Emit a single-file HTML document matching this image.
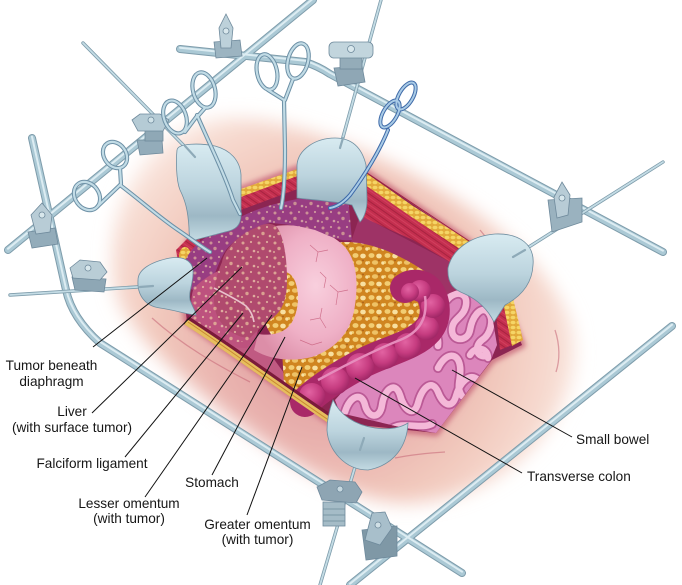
<!DOCTYPE html>
<html><head><meta charset="utf-8"><style>
html,body{margin:0;padding:0;background:#fff;}
svg{display:block}
text{font-family:"Liberation Sans",Arial,sans-serif;font-size:13.6px;fill:#161616;}
</style></head><body>
<svg width="682" height="585" viewBox="0 0 682 585" xmlns="http://www.w3.org/2000/svg">
<defs>
 <filter id="b8" x="-20%" y="-20%" width="140%" height="140%"><feGaussianBlur stdDeviation="9"/></filter>
 <filter id="b3" x="-20%" y="-20%" width="140%" height="140%"><feGaussianBlur stdDeviation="3"/></filter>
 <radialGradient id="skin" cx="330" cy="335" r="260" gradientUnits="userSpaceOnUse">
   <stop offset="0" stop-color="#dc9098"/>
   <stop offset="0.4" stop-color="#e8b0ad"/>
   <stop offset="0.65" stop-color="#f1c7bb"/>
   <stop offset="0.88" stop-color="#f7dcd2"/>
   <stop offset="1" stop-color="#fcf0eb"/>
 </radialGradient>
 <linearGradient id="ret" x1="0" y1="0" x2="0" y2="1">
   <stop offset="0" stop-color="#d8ebf1"/>
   <stop offset="0.45" stop-color="#bcd4de"/>
   <stop offset="0.75" stop-color="#9db8c5"/>
   <stop offset="1" stop-color="#c4dbe3"/>
 </linearGradient>
 <radialGradient id="stom" cx="0.6" cy="0.45" r="0.65">
   <stop offset="0" stop-color="#f8cfdd"/>
   <stop offset="0.6" stop-color="#efb0c6"/>
   <stop offset="1" stop-color="#dc8ea8"/>
 </radialGradient>
 <radialGradient id="hau" cx="0.4" cy="0.35" r="0.7">
   <stop offset="0" stop-color="#e263a2"/>
   <stop offset="0.6" stop-color="#c63c80"/>
   <stop offset="1" stop-color="#9a2462"/>
 </radialGradient>
 <pattern id="speck" width="16" height="15" patternUnits="userSpaceOnUse">
   <circle cx="3" cy="3" r="1.5" fill="#eec9a4"/>
   <circle cx="11" cy="2" r="1.1" fill="#f0d2ae"/>
   <circle cx="7" cy="8.5" r="1.7" fill="#ebc59e"/>
   <circle cx="14" cy="11" r="1.3" fill="#f1d6b4"/>
   <circle cx="2" cy="12" r="1" fill="#efcfa8"/>
 </pattern>
 <pattern id="fat" width="16" height="14" patternUnits="userSpaceOnUse">
   <rect width="16" height="14" fill="#d08520"/>
   <ellipse cx="3.5" cy="3.5" rx="3" ry="2.4" fill="#f2cd72"/>
   <ellipse cx="11" cy="4" rx="2.8" ry="2.4" fill="#f8e0a0"/>
   <ellipse cx="7" cy="10.5" rx="3.1" ry="2.3" fill="#eec266"/>
   <ellipse cx="15" cy="11" rx="1.8" ry="1.7" fill="#f8e0a0"/>
   <ellipse cx="0.5" cy="10.5" rx="1.6" ry="1.5" fill="#f2cd72"/>
   <circle cx="11" cy="8.5" r="0.9" fill="#a8601a"/>
 </pattern>
 <pattern id="fat2" width="6" height="5" patternUnits="userSpaceOnUse">
   <rect width="6" height="5" fill="#e2a93a"/>
   <ellipse cx="3" cy="2.5" rx="2.5" ry="1.8" fill="#f5d565"/>
 </pattern>
 <pattern id="muscle" width="6" height="6" patternUnits="userSpaceOnUse" patternTransform="rotate(35)">
   <rect width="6" height="6" fill="#c42f4f"/>
   <line x1="0" y1="1" x2="6" y2="1" stroke="#a0203c" stroke-width="0.8"/>
   <line x1="0" y1="4" x2="6" y2="4" stroke="#d84a66" stroke-width="0.6"/>
 </pattern>
 <clipPath id="bowelclip"><path d="M335,400 L360,372 L410,348 L430,312 L445,295 L465,287 L490,303 L497,345 L490,362 L436,433 L400,427 L340,413 Z"/></clipPath>
</defs>

<!-- skin -->
<path d="M112,262 C110,215 130,170 165,140 C195,118 235,113 280,124 C330,136 385,158 440,190 C495,222 545,265 568,315 C585,355 572,405 535,445 C500,482 450,505 400,503 C355,500 300,470 250,432 C195,392 140,345 120,305 C114,292 112,278 112,262 Z" fill="url(#skin)" filter="url(#b8)"/>
<g fill="none" stroke="#c46474" stroke-width="1.3" opacity="0.55">
 <path d="M152,318 C182,345 215,364 250,382"/>
 <path d="M395,458 C410,455 428,453 445,452"/>
 <path d="M335,438 C345,445 350,450 352,456"/>
 <path d="M480,230 C485,236 490,242 493,250"/>
 <path d="M555,330 C560,345 560,360 556,372"/>
</g>
<path d="M187,322 L180,262 L190,240 L240,190 L300,168 L355,165 L470,243 L500,292 L522,345 L492,360 L436,433 L330,422 Z" fill="none" stroke="#c8687a" stroke-width="6" filter="url(#b3)"/>
<!-- cavity -->
<path d="M187,322 L180,262 L190,240 L240,190 L300,168 L355,165 L470,243 L500,292 L522,345 L492,360 L436,433 L330,422 Z" fill="#8c2552"/>
<path d="M187,320 L215,300 L260,340 L300,395 L330,420 Z" fill="#c05a82"/>
<path d="M360,215 L450,262 L470,300 L440,300 L400,270 L350,245 Z" fill="#9e3366"/>

<!-- walls -->
<path d="M238,192 L300,170 L300,188 L238,211 Z" fill="url(#muscle)"/>
<path d="M238,190 L300,168 L300,175 L238,198 Z" fill="url(#fat2)"/>
<path d="M365,183 L413,218 L463,250 L450,262 L413,240 L362,217 Z" fill="url(#muscle)"/>
<path d="M356,166 L413,206 L472,243 L463,251 L413,218 L358,180 Z" fill="url(#fat2)"/>
<path d="M355,165 L472,243" stroke="#9a2040" stroke-width="1" fill="none"/>
<path d="M176,250 L190,236 L200,240 L195,268 L180,272 Z" fill="url(#muscle)"/>
<ellipse cx="185" cy="256" rx="6" ry="9" fill="url(#fat2)"/>
<path d="M495,305 L502,298 L512,345 L500,350 Z" fill="url(#muscle)"/>
<path d="M502,298 L512,294 L523,340 L512,346 Z" fill="url(#fat2)"/>

<!-- greater omentum -->
<path d="M330,244 C360,236 400,252 440,282 L445,300 L420,340 L370,360 L330,385 L300,402 L284,385 L282,350 L300,320 Z" fill="url(#fat)"/>

<!-- small bowel -->
<path d="M335,400 L360,372 L410,348 L430,312 L445,295 L465,287 L490,303 L497,345 L490,362 L436,433 L400,427 L340,413 Z" fill="#dc86bc"/>
<g clip-path="url(#bowelclip)" fill="none" stroke-linecap="round">
 <g stroke="#bb5a96" stroke-width="10">
  <path d="M447,300 C455,290 468,292 466,305 C464,318 452,318 452,330 C452,342 468,342 470,330 C472,318 480,305 488,312 C495,320 490,335 482,340 C474,346 476,358 486,356"/>
  <path d="M345,412 C350,395 362,392 365,405 C368,418 380,420 382,405 C384,390 395,380 400,395 C404,410 414,418 418,403 C422,388 432,378 438,392 C443,405 452,410 456,396 C460,382 470,372 478,380"/>
  <path d="M390,430 C402,420 420,430 432,424"/>
  <path d="M438,368 C446,352 458,352 460,366 C462,378 455,386 462,396"/>
  <path d="M418,338 C426,325 440,330 438,346"/>
  <path d="M470,355 C476,345 488,348 488,358"/>
 </g>
 <g stroke="#f4b8d8" stroke-width="6.5">
  <path d="M447,300 C455,290 468,292 466,305 C464,318 452,318 452,330 C452,342 468,342 470,330 C472,318 480,305 488,312 C495,320 490,335 482,340 C474,346 476,358 486,356"/>
  <path d="M345,412 C350,395 362,392 365,405 C368,418 380,420 382,405 C384,390 395,380 400,395 C404,410 414,418 418,403 C422,388 432,378 438,392 C443,405 452,410 456,396 C460,382 470,372 478,380"/>
  <path d="M390,430 C402,420 420,430 432,424"/>
  <path d="M438,368 C446,352 458,352 460,366 C462,378 455,386 462,396"/>
  <path d="M418,338 C426,325 440,330 438,346"/>
  <path d="M470,355 C476,345 488,348 488,358"/>
 </g>
</g>

<!-- transverse colon -->
<path d="M305,402 C320,388 340,375 365,362 C390,350 415,345 428,330 C438,318 436,300 428,290 C422,284 412,283 405,288" fill="none" stroke="#a92868" stroke-width="30" stroke-linecap="round"/>
<g fill="url(#hau)">
 <circle cx="312" cy="396" r="13"/>
 <circle cx="335" cy="381" r="14"/>
 <circle cx="360" cy="367" r="14"/>
 <circle cx="385" cy="356" r="13"/>
 <circle cx="408" cy="346" r="13"/>
 <circle cx="427" cy="328" r="12"/>
 <circle cx="433" cy="306" r="12"/>
 <circle cx="420" cy="291" r="11"/>
 <circle cx="410" cy="292" r="9"/>
</g>
<path d="M318,380 C340,368 370,352 400,340 C420,332 428,318 425,296" fill="none" stroke="#e68cbc" stroke-width="2.5"/>

<!-- lesser omentum (behind stomach) -->
<ellipse cx="284" cy="302" rx="22" ry="40" fill="url(#fat)"/>
<!-- stomach (ring) -->
<path d="M270,227 C295,222 325,228 343,245 C358,260 358,285 355,305 C352,330 338,348 312,357 C292,362 270,360 254,350 L258,334 C270,336 285,334 292,322 C298,312 299,298 297,288 C295,276 288,270 280,272 L270,250 Z" fill="url(#stom)"/>
<g fill="none" stroke="#c8607e" stroke-width="0.7" opacity="0.8">
 <path d="M310,245 L318,252 L316,262 M318,252 L328,250"/>
 <path d="M330,285 L338,292 L336,305 M338,292 L348,290"/>
 <path d="M310,320 L320,318 L326,328 M320,318 L322,308"/>
 <path d="M300,340 L312,345 L322,342"/>
 <path d="M320,272 L326,278 L324,288"/>
</g>

<!-- purple band (diaphragm tumor) -->
<path d="M182,282 C180,265 188,250 205,238 C222,226 245,212 275,204 C300,198 325,192 348,196 L352,240 C340,242 330,236 315,230 C300,226 285,224 270,223 C255,226 238,236 226,250 C218,262 214,278 208,290 C198,292 186,290 182,282 Z" fill="#983d82"/>
<path d="M182,282 C180,265 188,250 205,238 C222,226 245,212 275,204 C300,198 325,192 348,196 L352,240 C340,242 330,236 315,230 C300,226 285,224 270,223 C255,226 238,236 226,250 C218,262 214,278 208,290 C198,292 186,290 182,282 Z" fill="url(#speck)" opacity="0.6"/>

<!-- liver left lobe -->
<path d="M193,290 C200,280 215,272 225,268 L250,300 L258,330 C256,340 252,346 246,348 C230,348 212,342 200,332 C192,322 189,305 193,290 Z" fill="#bd527e"/>
<!-- liver -->
<path d="M222,262 C224,250 238,235 255,228 C262,224 270,222 276,226 C283,234 287,255 287,280 C287,300 282,312 270,320 C262,326 256,332 250,338 C238,338 225,330 218,318 C212,305 212,285 222,262 Z" fill="#b04a6e"/>
<path d="M193,290 C200,280 215,272 225,268 C224,250 238,235 255,228 C262,224 270,222 276,226 C283,234 287,255 287,280 C287,300 282,312 270,320 C262,326 256,334 250,340 C238,344 220,342 205,335 C194,328 188,312 193,290 Z" fill="url(#speck)" opacity="0.7"/>
<path d="M214,288 C226,294 238,300 246,306 C251,311 253,316 254,322" fill="none" stroke="#e9c2cc" stroke-width="1.6"/>

<!-- lower-left fat stripe -->
<path d="M186,320 C230,348 280,385 332,420" fill="none" stroke="#7a1a3a" stroke-width="9"/>
<path d="M186,322 C230,350 280,387 332,422" fill="none" stroke="#e6bd5e" stroke-width="6"/>
<path d="M188,322 C230,350 280,387 330,421" fill="none" stroke="#c98a30" stroke-width="1"/>

<!-- rods -->
<g fill="none" stroke-linecap="round">
 <g stroke="#7e9cab" stroke-width="8">
  <path d="M313,0 L8,250"/>
  <path d="M180,49 L305,62 Q318,66 330,74 L663,252"/>
  <path d="M672,326 L350,585"/>
  <path d="M32,138 L66,290 Q72,318 100,343 L462,573"/>
 </g>
 <g stroke="#abc9d5" stroke-width="6">
  <path d="M313,0 L8,250"/>
  <path d="M180,49 L305,62 Q318,66 330,74 L663,252"/>
  <path d="M672,326 L350,585"/>
  <path d="M32,138 L66,290 Q72,318 100,343 L462,573"/>
 </g>
 <g stroke="#dcecf2" stroke-width="2" transform="translate(0,-1.3)">
  <path d="M313,0 L8,250"/>
  <path d="M180,49 L305,62 Q318,66 330,74 L663,252"/>
  <path d="M672,326 L350,585"/>
  <path d="M32,138 L66,290 Q72,318 100,343 L462,573"/>
 </g>
 <g stroke="#7e9cab" stroke-width="3.4">
  <path d="M10,295 L153,286"/>
  <path d="M83,43 L195,157"/>
  <path d="M381,0 L340,148"/>
  <path d="M663,162 L513,257"/>
  <path d="M360,450 L320,585"/>
 </g>
 <g stroke="#c4dce5" stroke-width="1.8">
  <path d="M10,295 L153,286"/>
  <path d="M83,43 L195,157"/>
  <path d="M381,0 L340,148"/>
  <path d="M663,162 L513,257"/>
  <path d="M360,450 L320,585"/>
 </g>
</g>

<!-- retractors -->
<g fill="url(#ret)" stroke="#6f8ea0" stroke-width="0.8">
 <path d="M177,150 C178,143 200,143 215,146 C230,150 240,160 241,175 L241,215 C241,225 236,230 225,232 L195,240 C190,241 189,236 189,228 C188,210 185,200 180,190 C176,180 176,160 177,150 Z"/>
 <path d="M297,165 C298,150 315,138 335,138 C352,138 362,148 366,165 L367,200 C367,210 364,218 360,222 L352,205 C340,202 315,200 297,198 Z"/>
 <path d="M448,268 C452,250 470,236 495,234 C520,233 535,245 533,265 C532,285 520,297 505,305 L494,322 C488,310 478,300 465,294 C455,290 447,285 448,268 Z"/>
 <path d="M138,280 C138,270 150,262 170,258 C182,256 192,260 193,270 C194,282 188,292 190,300 C192,306 196,312 196,315 C185,314 175,310 160,308 C145,306 137,295 138,280 Z"/>
 <path d="M333,400 C340,415 355,425 375,428 C390,430 400,428 408,423 C407,445 395,465 368,470 C345,470 328,450 327,430 C327,418 330,408 333,400 Z"/>
</g>
<g stroke="#8eaab8" stroke-width="2.2" stroke-linecap="round">
 <path d="M185,146 L195,157"/>
 <path d="M343,138 L340,148"/>
 <path d="M525,250 L513,257"/>
 <path d="M140,287 L153,286"/>
 <path d="M364,438 L360,450"/>
</g>

<!-- clamps -->
<g stroke="#6f8a9c" stroke-width="0.8">
 <path d="M137,140 L162,140 L163,153 L140,155 Z" fill="#93acba"/>
 <rect x="145" y="130" width="18" height="11" fill="#8fa8b6"/>
 <path d="M132,120 L140,114 L160,114 L169,120 L163,131 L138,131 Z" fill="#b5cbd5"/>
 <circle cx="151" cy="120" r="3" fill="#d0e2e8"/>
 <path d="M214,42 L240,40 L242,56 L216,58 Z" fill="#9cb4c1"/>
 <path d="M226,14 L233,28 L231,48 L221,48 L219,28 Z" fill="#bdd1da"/>
 <circle cx="226" cy="31" r="3" fill="#d8e7ec"/>
 <path d="M334,68 L362,66 L365,82 L338,86 Z" fill="#8fa7b5"/>
 <rect x="340" y="57" width="22" height="12" fill="#94acb9"/>
 <rect x="329" y="42" width="44" height="16" rx="5" fill="#c2d5dd"/>
 <circle cx="351" cy="49" r="3.5" fill="#d8e7ec"/>
 <path d="M28,232 L55,228 L58,244 L32,248 Z" fill="#93acba"/>
 <path d="M42,203 L52,215 L50,232 L36,234 L31,215 Z" fill="#b8ccd6"/>
 <circle cx="42" cy="215" r="3" fill="#d8e7ec"/>
 <path d="M72,277 L106,279 L104,292 L75,290 Z" fill="#8ea7b5"/>
 <path d="M70,268 L80,260 L100,262 L107,272 L100,280 L73,278 Z" fill="#b9cdd6"/>
 <circle cx="88" cy="268" r="3" fill="#d8e7ec"/>
 <rect x="323" y="502" width="22" height="24" fill="#a5bcc7"/>
 <path d="M323,509 L345,509 M323,515 L345,515 M323,521 L345,521" fill="none"/>
 <path d="M317,487 L330,480 L355,482 L362,492 L356,503 L322,500 Z" fill="#8ea5b3"/>
 <circle cx="340" cy="489" r="3" fill="#c6d8e0"/>
 <path d="M362,530 L397,526 L397,556 L366,560 Z" fill="#7f98a6"/>
 <path d="M372,513 L385,512 L392,528 L380,545 L365,540 Z" fill="#a8bfcb"/>
 <circle cx="378" cy="525" r="3" fill="#d0e0e6"/>
 <path d="M548,200 L582,198 L582,222 L552,232 Z" fill="#9ab2bf"/>
 <path d="M562,182 L570,195 L568,215 L557,218 L554,197 Z" fill="#b8ccd6"/>
 <circle cx="562" cy="198" r="3" fill="#d8e7ec"/>
</g>

<!-- hemostats -->
<g fill="none" stroke-linecap="round">
 <g stroke="#6d90a6" stroke-width="4.2">
  <ellipse cx="87" cy="196" rx="12" ry="15" transform="rotate(-35 87 196)"/>
  <ellipse cx="115" cy="155" rx="11" ry="14" transform="rotate(-35 115 155)"/>
  <path d="M98,206 L120,185 M120,168 L121,184"/>
  <path d="M120,185 C140,200 160,218 178,230 C190,238 200,246 210,252"/>
  <ellipse cx="175" cy="117" rx="11" ry="17" transform="rotate(-20 175 117)"/>
  <ellipse cx="204" cy="90" rx="11" ry="18" transform="rotate(-15 204 90)"/>
  <path d="M185,132 L197,116 M205,108 L198,116"/>
  <path d="M197,115 C210,145 225,175 233,200 L240,214"/>
  <ellipse cx="267" cy="72" rx="10" ry="18" transform="rotate(-12 267 72)"/>
  <ellipse cx="298" cy="61" rx="10" ry="18" transform="rotate(15 298 61)"/>
  <path d="M268,90 L284,100 M293,79 L285,100"/>
  <path d="M284,100 L285,150 C285,175 284,195 281,208"/>
 </g>
 <g stroke="#c2dce6" stroke-width="2.2">
  <ellipse cx="87" cy="196" rx="12" ry="15" transform="rotate(-35 87 196)"/>
  <ellipse cx="115" cy="155" rx="11" ry="14" transform="rotate(-35 115 155)"/>
  <path d="M98,206 L120,185 M120,168 L121,184"/>
  <path d="M120,185 C140,200 160,218 178,230 C190,238 200,246 210,252"/>
  <ellipse cx="175" cy="117" rx="11" ry="17" transform="rotate(-20 175 117)"/>
  <ellipse cx="204" cy="90" rx="11" ry="18" transform="rotate(-15 204 90)"/>
  <path d="M185,132 L197,116 M205,108 L198,116"/>
  <path d="M197,115 C210,145 225,175 233,200 L240,214"/>
  <ellipse cx="267" cy="72" rx="10" ry="18" transform="rotate(-12 267 72)"/>
  <ellipse cx="298" cy="61" rx="10" ry="18" transform="rotate(15 298 61)"/>
  <path d="M268,90 L284,100 M293,79 L285,100"/>
  <path d="M284,100 L285,150 C285,175 284,195 281,208"/>
 </g>
 <g stroke="#3f6aa8" stroke-width="4">
  <ellipse cx="390" cy="114" rx="7" ry="15" transform="rotate(30 390 114)"/>
  <ellipse cx="406" cy="96" rx="7" ry="15" transform="rotate(30 406 96)"/>
  <path d="M388,130 C380,150 365,175 350,195 C343,203 336,207 330,208"/>
 </g>
 <g stroke="#a9cbe6" stroke-width="2">
  <ellipse cx="390" cy="114" rx="7" ry="15" transform="rotate(30 390 114)"/>
  <ellipse cx="406" cy="96" rx="7" ry="15" transform="rotate(30 406 96)"/>
  <path d="M388,130 C380,150 365,175 350,195 C343,203 336,207 330,208"/>
 </g>
</g>

<!-- leader lines -->
<g stroke="#111" stroke-width="1" fill="none">
 <path d="M93,347 L207,258"/>
 <path d="M92,413 L242,267"/>
 <path d="M125,457 L243,313"/>
 <path d="M145,497 L272,315"/>
 <path d="M212,475 L285,337"/>
 <path d="M247,515 L302,367"/>
 <path d="M452,370 L572,437"/>
 <path d="M355,378 L522,473"/>
</g>

<!-- labels -->
<text x="51.5" y="370" text-anchor="middle">Tumor beneath</text>
<text x="51.5" y="386" text-anchor="middle">diaphragm</text>
<text x="72" y="416" text-anchor="middle">Liver</text>
<text x="72" y="432" text-anchor="middle">(with surface tumor)</text>
<text x="92" y="468" text-anchor="middle">Falciform ligament</text>
<text x="212" y="487" text-anchor="middle">Stomach</text>
<text x="129" y="508" text-anchor="middle">Lesser omentum</text>
<text x="129" y="523" text-anchor="middle">(with tumor)</text>
<text x="257.5" y="529" text-anchor="middle">Greater omentum</text>
<text x="257.5" y="544" text-anchor="middle">(with tumor)</text>
<text x="576" y="444">Small bowel</text>
<text x="527" y="481">Transverse colon</text>
</svg>
</body></html>
